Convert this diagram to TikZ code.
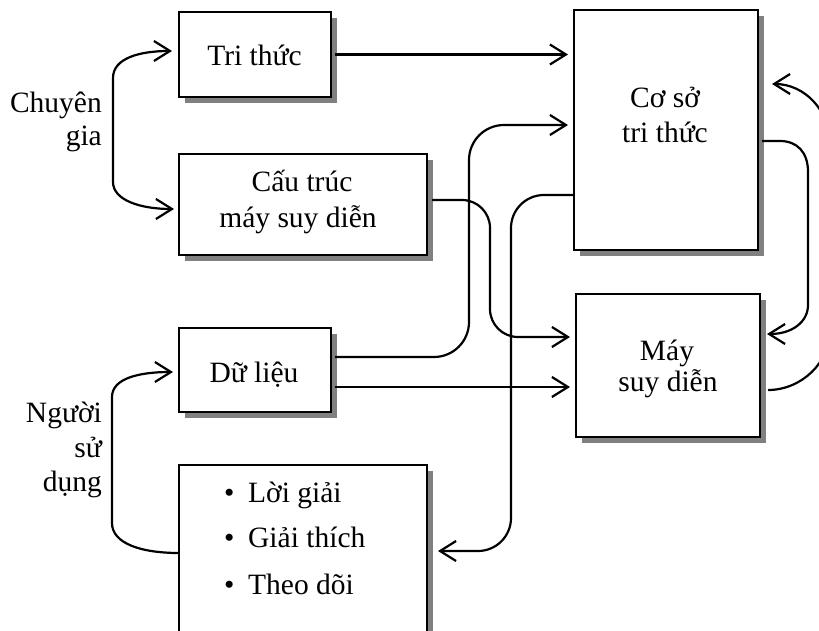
\documentclass[tikz,border=0pt]{standalone}
\usepackage{fontspec}
\setmainfont{Liberation Serif}
\usetikzlibrary{arrows.meta,shadows}
\begin{document}
\begin{tikzpicture}[x=1pt,y=1pt,
  box/.style={draw, line width=2.2pt, fill=white, inner sep=0pt, outer sep=0pt,
    drop shadow={shadow xshift=6pt, shadow yshift=-6pt, fill=black!50, opacity=1}},
  lbl/.style={font=\fontsize{29.5}{34}\selectfont, inner sep=0pt},
  arr/.style={line width=2.2pt, -{Straight Barb[length=16pt,width=20pt]}},
  darr/.style={line width=2.2pt, {Straight Barb[length=16pt,width=20pt]}-{Straight Barb[length=16pt,width=20pt]}}]
\useasboundingbox (0,0) rectangle (819,-631);
\fill[white] (0,0) rectangle (819,-631);
\clip (0,0) rectangle (819,-631);

% boxes
\node[box, minimum width=152pt, minimum height=85pt] (tri) at (255,-54.5) {};
\node[box, minimum width=248pt, minimum height=101pt] (cau) at (303,-204.5) {};
\node[box, minimum width=184pt, minimum height=240pt] (coso) at (666,-130) {};
\node[box, minimum width=152pt, minimum height=84pt] (dulieu) at (255,-370) {};
\node[box, minimum width=248pt, minimum height=195pt] (out) at (303,-562.5) {};
\node[box, minimum width=184pt, minimum height=143pt] (may) at (668,-365.5) {};

% texts
\node[lbl, anchor=base] (ttri) at (254.5,-66) {Tri thức};
\node[lbl, anchor=base] (tcoso1) at (665,-108) {Cơ sở};
\node[lbl, anchor=base] (tcoso2) at (665,-143) {tri thức};
\node[lbl, anchor=base] (tcau1) at (302,-192) {Cấu trúc};
\node[lbl, anchor=base] (tcau2) at (298,-227) {máy suy diễn};
\node[lbl, anchor=base] (tdl) at (254,-382) {Dữ liệu};
\node[lbl, anchor=base] (tmay1) at (667,-360) {Máy};
\node[lbl, anchor=base] (tmay2) at (668,-391) {suy diễn};
\node[lbl, anchor=base east] (tcg1) at (102,-113) {Chuyên};
\node[lbl, anchor=base east] (tcg2) at (102,-146) {gia};
\node[lbl, anchor=base east] (tnd1) at (102,-422) {Người};
\node[lbl, anchor=base east] (tnd2) at (102,-457) {sử};
\node[lbl, anchor=base east] (tnd3) at (102,-491) {dụng};
\node[lbl, anchor=base west] (b1) at (224,-502) {\makebox[24pt][l]{•}Lời giải};
\node[lbl, anchor=base west] (b2) at (224,-547) {\makebox[24pt][l]{•}Giải thích};
\node[lbl, anchor=base west] (b3) at (224,-594) {\makebox[24pt][l]{•}Theo dõi};

% connectors
\draw[darr] ([xshift=-7pt,yshift=3.5pt]tri.west) .. controls (140,-51) and (113,-58) .. (113,-78)
  -- (113,-182) .. controls (113,-200) and (140,-209) .. ([xshift=-5pt,yshift=-4.5pt]cau.west);
\draw[arr] ([xshift=4pt]tri.east) -- ([xshift=-6pt]tri.east -| coso.west);
\draw[arr, rounded corners=28pt] ([xshift=5pt,yshift=4.5pt]cau.east) -| (490,-337)
  -- ([xshift=-6pt,yshift=28.5pt]may.west);
\draw[arr, rounded corners=35pt] ([xshift=4pt,yshift=13pt]dulieu.east) -| (469,-125)
  -- ([xshift=-6pt,yshift=5pt]coso.west);
\draw[arr] ([xshift=4pt,yshift=-17pt]dulieu.east) -- ([xshift=-6pt,yshift=-21.5pt]may.west);
\draw[arr, rounded corners=33pt] ([yshift=-65pt]coso.west) -| (511,-551)
  -- ([xshift=11pt,yshift=11.5pt]out.east);
\draw[arr] ([xshift=4pt,yshift=-11pt]coso.east) -- (780,-141) .. controls (797,-141) and (808,-152) .. (808,-172)
  -- (808,-305) .. controls (808,-322) and (792,-334) .. ([xshift=7pt,yshift=31.5pt]may.east);
\draw[arr] ([xshift=8pt,yshift=-24.5pt]may.east) .. controls (801,-390) and (830,-363) .. (830,-330)
  -- (830,-144) .. controls (830,-111) and (805,-84) .. ([xshift=14pt,yshift=46pt]coso.east);
\draw[arr] ([yshift=9.5pt]out.west) .. controls (140,-553) and (112,-543) .. (112,-523)
  -- (112,-397) .. controls (112,-378) and (140,-372) .. ([xshift=-6pt,yshift=-2pt]dulieu.west);
\end{tikzpicture}
\end{document}
